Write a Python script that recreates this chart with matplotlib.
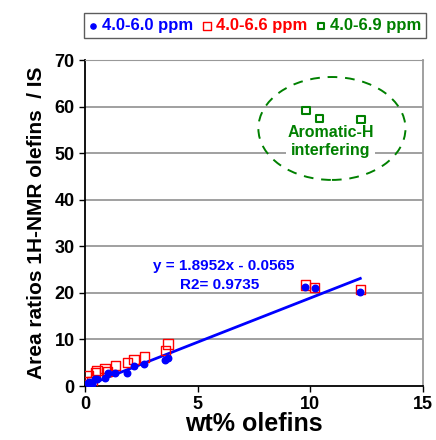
import matplotlib.pyplot as plt
import numpy as np
from matplotlib.patches import Ellipse

plt.rcParams['font.family'] = ['Liberation Sans', 'DejaVu Sans']
plt.rcParams['font.weight'] = 'bold'

# data
wt_olefins = [0.13, 0.16, 0.31, 0.46, 0.53, 0.89, 1.0, 1.35, 1.88, 2.18,
              2.64, 3.56, 3.68, 9.78, 10.19, 12.22]
ratio_60 = [0.6, 0.8, 0.4, 1.4, 1.6, 1.8, 2.9, 2.7, 2.9, 4.3,
            4.7, 5.6, 6.0, 21.3, 21.1, 20.1]
ratio_66 = [0.9, 2.2, 1.0, 2.9, 3.4, 3.8, 3.1, 4.4, 5.0, 5.7,
            6.2, 7.6, 9.0, 21.7, 21.2, 20.7]
wt_aromatic = [9.82, 10.41, 12.24]
ratio_69 = [59.2, 57.4, 57.2]

slope = 1.8952
intercept = -0.0565
r2 = 0.9735

fig = plt.figure(figsize=(4.36, 4.40), dpi=100)
ax = fig.add_axes([0.195, 0.1227, 0.775, 0.7409])

for yv in range(10, 80, 10):
    ax.axhline(yv, color='#999999', lw=1.3, zorder=0)

ax.scatter(wt_aromatic, ratio_69, marker='s', s=30, facecolors='none',
           edgecolors='green', linewidths=1.5, label='4.0-6.9 ppm', zorder=3)
ax.scatter(wt_olefins, ratio_66, marker='s', s=45, facecolors='none',
           edgecolors='red', linewidths=1.0, label='4.0-6.6 ppm', zorder=3)
ax.scatter(wt_olefins, ratio_60, marker='o', s=22, color='blue',
           label='4.0-6.0 ppm', zorder=4)

xfit = np.array([0, max(wt_olefins)])
ax.plot(xfit, slope * xfit + intercept, color='blue', lw=2, zorder=2)

ax.text(3.0, 25.0, 'y = 1.8952x - 0.0565', color='blue', fontsize=11,
        fontweight='bold')
ax.text(4.2, 20.8, 'R2= 0.9735', color='blue', fontsize=11,
        fontweight='bold')

ell = Ellipse((10.96, 55.3), 6.53, 22.1, fill=False, edgecolor='green',
              linestyle=(0, (5, 4)), lw=1.4)
ax.add_patch(ell)
ax.text(10.9, 52.4, 'Aromatic-H\ninterfering', color='green', fontsize=11.5,
        fontweight='bold', ha='center', va='center', linespacing=1.25,
        bbox=dict(facecolor='white', edgecolor='none', pad=1))

ax.set_xlim(0, 15)
ax.set_ylim(0, 70)
ax.set_xticks([0, 5, 10, 15])
ax.set_yticks(range(0, 80, 10))
ax.tick_params(labelsize=13, direction='out', length=4, width=1)
for lab in ax.get_xticklabels() + ax.get_yticklabels():
    lab.set_fontweight('bold')

ax.spines['left'].set_linewidth(1.3)
ax.spines['bottom'].set_linewidth(1.3)
ax.spines['top'].set_color('#999999')
ax.spines['right'].set_color('#999999')
ax.spines['right'].set_linewidth(1.3)

ax.set_xlabel('wt% olefins', fontsize=18, fontweight='bold', labelpad=-1)
ax.set_ylabel('Area ratios 1H-NMR olefins  / IS', fontsize=15,
              fontweight='bold', labelpad=6)

handles, labels = ax.get_legend_handles_labels()
order = [2, 1, 0]
leg = fig.legend([handles[i] for i in order], [labels[i] for i in order],
                 loc='center', bbox_to_anchor=(0.585, 0.941), ncol=3,
                 fontsize=12, handlelength=0.5, handletextpad=0.3,
                 columnspacing=0.55, borderpad=0.3, fancybox=False,
                 edgecolor='#333333', markerscale=0.8,
                 labelcolor=['blue', 'red', 'green'])
leg.get_frame().set_linewidth(1.0)
for t in leg.get_texts():
    t.set_fontweight('bold')

fig.savefig('out.png', dpi=100)
